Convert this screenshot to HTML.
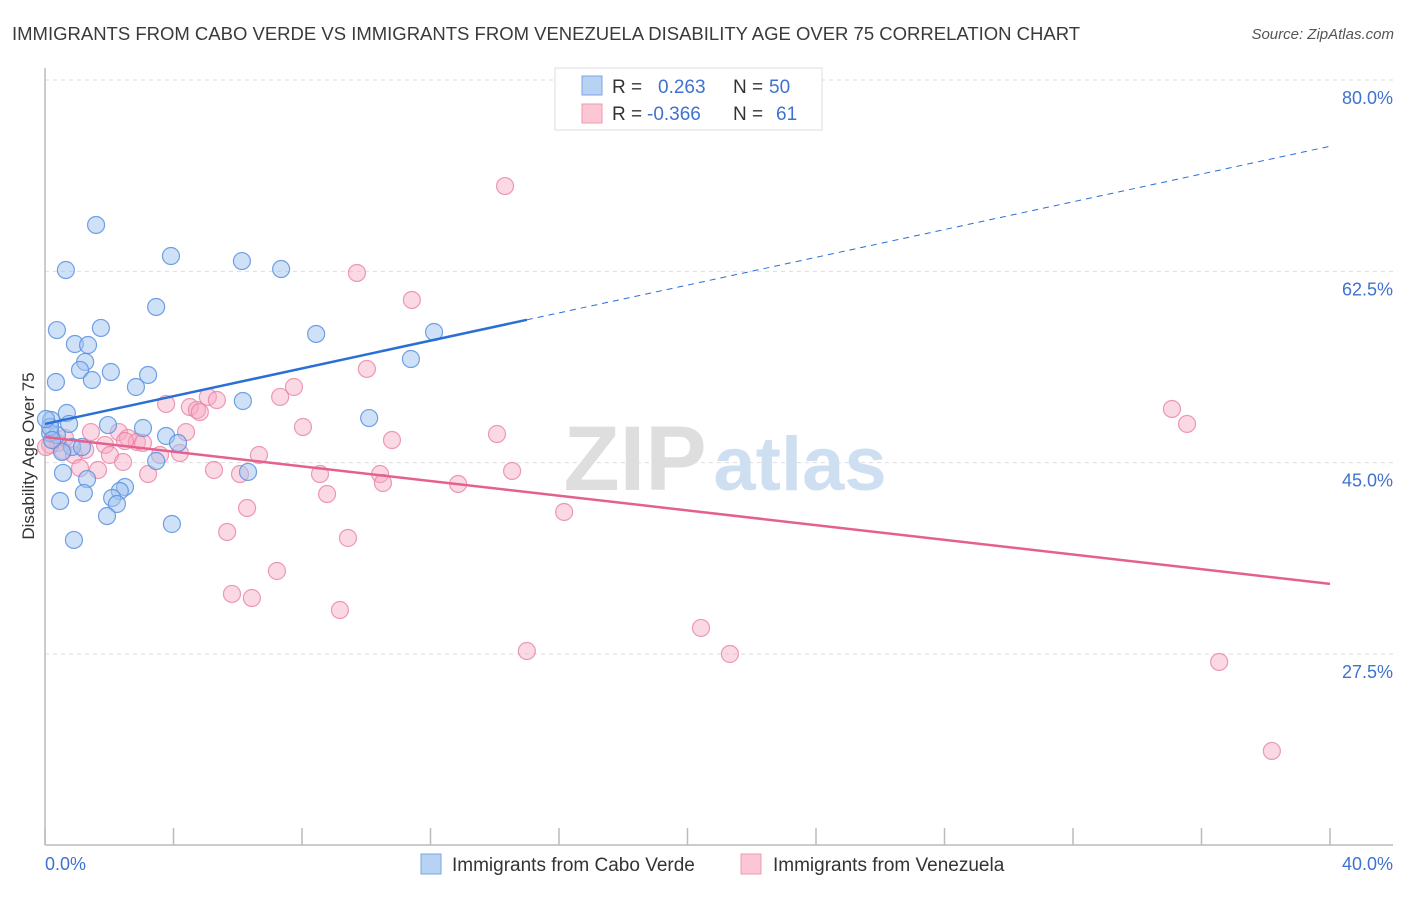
<!DOCTYPE html>
<html><head><meta charset="utf-8"><style>
body{margin:0;background:#fff;font-family:"Liberation Sans",sans-serif;}
svg text{font-family:"Liberation Sans",sans-serif;}
</style></head><body>
<svg id="chart" width="1406" height="892" viewBox="0 0 1406 892" xmlns="http://www.w3.org/2000/svg">
<text x="12" y="40" font-size="18.5" fill="#3a3a3a">IMMIGRANTS FROM CABO VERDE VS IMMIGRANTS FROM VENEZUELA DISABILITY AGE OVER 75 CORRELATION CHART</text>
<text x="1394" y="39" font-size="15" font-style="italic" fill="#555" text-anchor="end">Source: ZipAtlas.com</text>
<g id="grid"></g>
<g>
<text x="635" y="490" font-size="92" font-family="Liberation Serif" fill="#dedede" text-anchor="middle" font-weight="bold">ZIP</text>
<text x="800" y="490" font-size="76" fill="#cfdff2" text-anchor="middle" font-weight="bold">atlas</text>
</g>
<line x1="45" y1="68" x2="45" y2="845" stroke="#bbb" stroke-width="1.5"/>
<line x1="45" y1="845" x2="1393" y2="845" stroke="#bbb" stroke-width="1.5"/>
<text transform="translate(34,456) rotate(-90)" font-size="17" fill="#333" text-anchor="middle">Disability Age Over 75</text>
<text x="45" y="870" font-size="18" fill="#3f72d0">0.0%</text>
<text x="1393" y="870" font-size="18" fill="#3f72d0" text-anchor="end">40.0%</text>
<g id="ticks"></g>
<g id="pinkPts"></g>
<g id="bluePts"></g>
<g id="lines"></g>
<g>
<rect x="555" y="68" width="267" height="62" fill="#fff" stroke="#ddd"/>
<rect x="582" y="76" width="20" height="19" fill="#b8d2f4" stroke="#7aa5e3"/>
<rect x="582" y="104" width="20" height="19" fill="#fcc6d5" stroke="#ee9ab4"/>
<text x="612" y="93" font-size="19" fill="#333">R =</text>
<text x="658" y="93" font-size="19" fill="#3f72d0">0.263</text>
<text x="733" y="93" font-size="19" fill="#333">N =</text>
<text x="769" y="93" font-size="19" fill="#3f72d0">50</text>
<text x="612" y="120" font-size="19" fill="#333">R =</text>
<text x="647" y="120" font-size="19" fill="#3f72d0">-0.366</text>
<text x="733" y="120" font-size="19" fill="#333">N =</text>
<text x="776" y="120" font-size="19" fill="#3f72d0">61</text>
</g>
<g>
<rect x="421" y="854" width="20" height="20" fill="#b8d2f4" stroke="#7aa5e3"/>
<text x="452" y="871" font-size="19" fill="#333">Immigrants from Cabo Verde</text>
<rect x="741" y="854" width="20" height="20" fill="#fcc6d5" stroke="#ee9ab4"/>
<text x="773" y="871" font-size="19" fill="#333">Immigrants from Venezuela</text>
</g>
</svg>
<script>
const yTicks=[27.5,45.0,62.5,80.0];
const yTickLabels=["27.5%","45.0%","62.5%","80.0%"];
const xTicks=[0,4,8,12,16,20,24,28,32,36,40];
const blueX=[1.59,0.65,3.92,6.13,7.35,0.37,1.74,3.46,8.44,12.11,0.93,1.34,1.25,1.09,2.05,1.46,3.21,0.34,2.83,6.16,0.68,0.19,0.75,1.96,3.05,10.09,0.37,0.16,3.77,4.14,0.84,1.15,0.53,11.39,3.46,6.32,0.56,1.31,2.49,2.33,1.21,0.47,2.09,2.24,1.93,3.95,0.90,0.16,0.22,0.03];
const blueY=[66.74,62.62,63.90,63.44,62.71,57.13,57.32,59.24,56.77,56.95,55.85,55.76,54.21,53.48,53.29,52.56,53.02,52.38,51.92,50.64,49.54,48.90,48.54,48.44,48.17,49.08,47.53,47.71,47.44,46.80,46.43,46.43,45.97,54.48,45.15,44.15,44.06,43.50,42.77,42.41,42.22,41.49,41.77,41.22,40.12,39.39,37.93,48.26,47.07,48.99];
const pinkX=[14.32,9.71,11.42,10.02,7.75,7.32,5.07,5.35,3.77,4.51,4.73,4.82,35.08,35.55,8.03,1.43,2.30,4.39,14.07,2.58,2.86,10.80,0.40,3.05,1.87,0.56,4.20,6.66,0.90,2.02,3.58,2.43,0.16,1.09,1.65,5.26,14.54,8.56,10.43,3.21,6.07,10.52,12.86,8.78,6.29,16.16,5.67,9.43,7.22,5.82,6.44,9.18,20.42,15.00,21.32,36.55,38.19,0.62,1.25,0.03,2.49];
const pinkY=[70.30,62.35,59.88,53.57,51.92,51.01,51.01,50.73,50.37,50.09,49.82,49.63,49.91,48.54,48.26,47.80,47.80,47.80,47.62,47.26,46.89,47.07,46.80,46.80,46.62,46.07,45.88,45.70,45.70,45.70,45.70,45.06,46.62,44.51,44.33,44.33,44.24,43.96,43.96,43.96,43.96,43.14,43.05,42.13,40.85,40.49,38.66,38.11,35.09,32.99,32.62,31.52,29.88,27.77,27.50,26.77,18.63,47.26,46.16,46.43,46.98];
const blueTrend=[48.54,0.635,15];
const pinkTrend=[47.35,-0.336];
const NS="http://www.w3.org/2000/svg";
const X=v=>45+v/40*1285;
const Y=v=>80+(80-v)*10.933;
function mk(t,a,p){const e=document.createElementNS(NS,t);for(const k in a)e.setAttribute(k,a[k]);document.getElementById(p).appendChild(e);return e;}
yTicks.forEach((t,i)=>{
 const g=mk('line',{x1:45,x2:1393,y1:Y(t),y2:Y(t),stroke:'#ddd','stroke-dasharray':'4,4'},'grid');
 
 
 const l=mk('text',{x:1393,y:Y(t)+24,'font-size':18,fill:'#3f72d0','text-anchor':'end'},'grid');
 l.textContent=yTickLabels[i];
 
 
});
xTicks.forEach(t=>{
 const e=mk('line',{x1:X(t),x2:X(t),y1:828,y2:845,stroke:'#bbb','stroke-width':1.5},'ticks');
 
 
});
pinkX.forEach((v,i)=>{
 const c=mk('circle',{cx:X(v),cy:Y(pinkY[i]),r:8.5,fill:'rgba(246,170,195,0.45)',stroke:'rgba(232,130,165,0.8)','stroke-width':1.2},'pinkPts');
 
 
});
blueX.forEach((v,i)=>{
 const c=mk('circle',{cx:X(v),cy:Y(blueY[i]),r:8.5,fill:'rgba(160,195,240,0.5)',stroke:'rgba(90,145,225,0.85)','stroke-width':1.2},'bluePts');
 
 
});
const bf=x=>blueTrend[0]+blueTrend[1]*x;
let l1=mk('line',{x1:X(0),y1:Y(bf(0)),x2:X(blueTrend[2]),y2:Y(bf(blueTrend[2])),stroke:'#2a6fd6','stroke-width':2.5},'lines');


let l2=mk('line',{x1:X(blueTrend[2]),y1:Y(bf(blueTrend[2])),x2:X(40),y2:Y(bf(40)),stroke:'#2a6fd6','stroke-width':1,'stroke-dasharray':'6,5'},'lines');


const pf=x=>pinkTrend[0]+pinkTrend[1]*x;
let l3=mk('line',{x1:X(0),y1:Y(pf(0)),x2:X(40),y2:Y(pf(40)),stroke:'#e4608e','stroke-width':2.5},'lines');


</script>
</body></html>
